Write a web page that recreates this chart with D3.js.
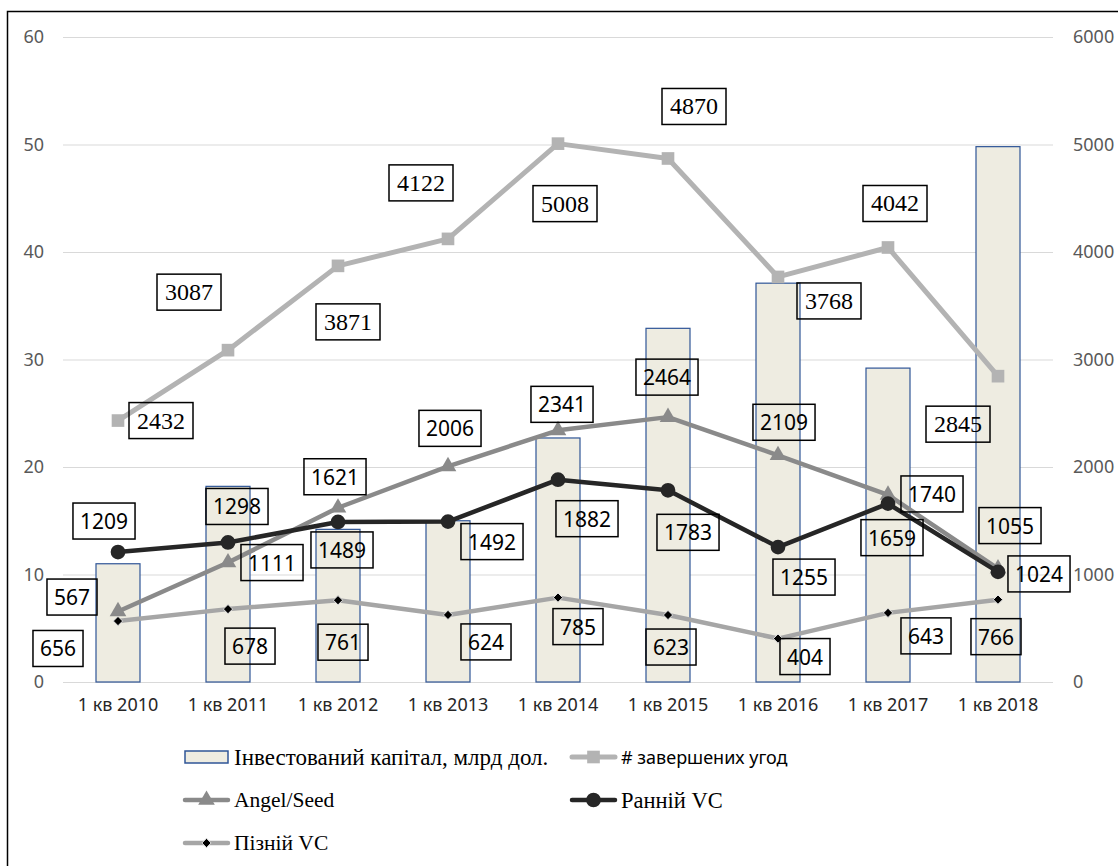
<!DOCTYPE html>
<html>
<head>
<meta charset="utf-8">
<script src="https://cdn.jsdelivr.net/npm/d3@7"></script>
<style>
  body { margin: 0; background: #fff; }
</style>
</head>
<body>
<div id="chart"></div>
<script>
// data
var quarters = ["1 кв 2010", "1 кв 2011", "1 кв 2012", "1 кв 2013", "1 кв 2014", "1 кв 2015", "1 кв 2016", "1 кв 2017", "1 кв 2018"];
var capital = [11, 18.2, 14.2, 15, 22.7, 32.9, 37.1, 29.2, 49.8];   // млрд дол., left axis
var deals = [2432, 3087, 3871, 4122, 5008, 4870, 3768, 4042, 2845]; // right axis
var angelSeed = [656, 1111, 1621, 2006, 2341, 2464, 2109, 1740, 1055];
var earlyVC = [1209, 1298, 1489, 1492, 1882, 1783, 1255, 1659, 1024];
var lateVC = [567, 678, 761, 624, 785, 623, 404, 643, 766];
var leftTicks = [0, 10, 20, 30, 40, 50, 60];
var rightTicks = [0, 1000, 2000, 3000, 4000, 5000, 6000];

// manual label placement (pixels from the point), like the hand-dragged labels in the original
var dealsOff = [[43, 0], [-39, -58], [10, 56], [-27, -56], [7, 60], [26, -52], [51, 24], [7, -44], [-40, 48]];
var angelOff = [[-60, 37], [44, 0], [-3, -31], [2, -38], [4, -26], [-1, -40], [6, -33], [44, -1], [12, -43]];
var earlyOff = [[-14, -31], [9, -36], [4, 28], [44, 20], [29, 39], [20, 42], [26, 30], [4, 34], [41, 2]];
var lateOff = [[-46, -24], [22, 37], [5, 42], [38, 27], [20, 29], [3, 32], [27, 18], [38, 23], [-2, 37]];

var sans = "'Noto Sans', 'Open Sans', sans-serif";
var serif = "'Liberation Serif', 'Times New Roman', serif";

var W = 1118, H = 866;
var plot = {left: 63, right: 1053, top: 37, bottom: 682};

var svg = d3.select("#chart").append("svg")
  .attr("width", W)
  .attr("height", H);

// outer frame (cut by the picture on the right and bottom)
svg.append("rect")
  .attr("x", 7.5).attr("y", 11.5)
  .attr("width", 1300).attr("height", 1000)
  .attr("fill", "none")
  .attr("stroke", "#000")
  .attr("stroke-width", 1.5);

var x = d3.scaleBand()
  .domain(quarters)
  .range([plot.left, plot.right]);
var cx = function(d) { return x(d) + x.bandwidth() / 2; };

var yL = d3.scaleLinear().domain([0, 60]).range([plot.bottom, plot.top]);
var yR = d3.scaleLinear().domain([0, 6000]).range([plot.bottom, plot.top]);

// left axis + grid
var gl = svg.append("g")
  .attr("transform", "translate(" + plot.left + ",0)")
  .call(d3.axisLeft(yL).tickValues(leftTicks).tickSize(-(plot.right - plot.left)).tickPadding(19));
gl.select(".domain").remove();
gl.selectAll(".tick line").attr("stroke", "#d9d9d9").attr("stroke-width", 1.2);
gl.selectAll(".tick text").attr("fill", "#595959").style("font", "18px " + sans);

// right axis
var gr = svg.append("g")
  .attr("transform", "translate(" + plot.right + ",0)")
  .call(d3.axisRight(yR).tickValues(rightTicks).tickFormat(d3.format("d")).tickSize(0).tickPadding(20));
gr.select(".domain").remove();
gr.selectAll(".tick text").attr("fill", "#595959").style("font", "18px " + sans);

// x axis labels
var gx = svg.append("g")
  .attr("transform", "translate(0," + plot.bottom + ")")
  .call(d3.axisBottom(x).tickSize(0).tickPadding(16));
gx.select(".domain").remove();
gx.selectAll(".tick text").attr("fill", "#262626").style("font", "18px " + sans);

// bars
var barW = x.bandwidth() * 0.4;
svg.append("g").selectAll("rect")
  .data(capital)
  .enter().append("rect")
  .attr("x", function(d, i) { return cx(quarters[i]) - barW / 2; })
  .attr("y", function(d) { return yL(d); })
  .attr("width", barW)
  .attr("height", function(d) { return yL(0) - yL(d); })
  .attr("fill", "#eeece1")
  .attr("stroke", "#2f5597")
  .attr("stroke-width", 1.2);

var line = d3.line()
  .x(function(d, i) { return cx(quarters[i]); })
  .y(function(d) { return yR(d); });

function drawSeries(values, color, width, marker) {
  var g = svg.append("g");
  g.append("path")
    .datum(values)
    .attr("d", line)
    .attr("fill", "none")
    .attr("stroke", color)
    .attr("stroke-width", width)
    .attr("stroke-linejoin", "round");
  g.selectAll("path.m")
    .data(values)
    .enter().append("path")
    .attr("class", "m")
    .attr("transform", function(d, i) { return "translate(" + cx(quarters[i]) + "," + yR(d) + ")"; })
    .attr("d", marker.d)
    .attr("fill", marker.fill)
    .attr("stroke", marker.stroke || "none")
    .attr("stroke-width", marker.sw || 0);
}

var mSquare = {d: d3.symbol().type(d3.symbolSquare).size(160)(), fill: "#b3b3b3"};
var mTri = {d: d3.symbol().type(d3.symbolTriangle).size(120)(), fill: "#8a8a8a"};
var mCircle = {d: d3.symbol().type(d3.symbolCircle).size(170)(), fill: "#262626"};
var mDiamond = {d: d3.symbol().type(d3.symbolDiamond2).size(55)(), fill: "#000", stroke: "#e6e6e6", sw: 1};

drawSeries(deals, "#b3b3b3", 5, mSquare);
drawSeries(angelSeed, "#8a8a8a", 4.5, mTri);
drawSeries(lateVC, "#a6a6a6", 4.5, mDiamond);
drawSeries(earlyVC, "#262626", 4.5, mCircle);

// boxed data labels
function drawLabels(values, offs, font, size, pad) {
  var g = svg.append("g");
  values.forEach(function(v, i) {
    var px = cx(quarters[i]) + offs[i][0];
    var py = yR(v) + offs[i][1];
    var t = g.append("text")
      .attr("x", px)
      .attr("y", py)
      .attr("text-anchor", "middle")
      .attr("dominant-baseline", "central")
      .attr("fill", "#000")
      .style("font-family", font)
      .style("font-size", size + "px")
      .text(v);
    var tw = t.node().getComputedTextLength();
    g.insert("rect", "text")
      .attr("x", px - tw / 2 - pad)
      .attr("y", py - 18)
      .attr("width", tw + pad * 2)
      .attr("height", 36)
      .attr("fill", "none")
      .attr("stroke", "#000")
      .attr("stroke-width", 1.5);
  });
}

drawLabels(deals, dealsOff, serif, 24, 8);
drawLabels(angelSeed, angelOff, sans, 21, 7);
drawLabels(earlyVC, earlyOff, sans, 21, 7);
drawLabels(lateVC, lateOff, sans, 21, 7);

// legend
var legend = [
  {name: "Інвестований капітал, млрд дол.", type: "bar", x: 185, y: 757, font: serif, size: 23},
  {name: "# завершених угод", type: "line", color: "#b3b3b3", w: 5, marker: mSquare, x: 572, y: 757, font: sans, size: 18},
  {name: "Angel/Seed", type: "line", color: "#8a8a8a", w: 4.5, marker: mTri, x: 185, y: 800, font: serif, size: 21.5},
  {name: "Ранній VC", type: "line", color: "#262626", w: 4.5, marker: mCircle, x: 572, y: 800, font: serif, size: 22.5},
  {name: "Пізній VC", type: "line", color: "#a6a6a6", w: 4.5, marker: mDiamond, x: 185, y: 843, font: serif, size: 21.5}
];

var lg = svg.append("g");
legend.forEach(function(l) {
  var g = lg.append("g").attr("transform", "translate(" + l.x + "," + l.y + ")");
  if (l.type === "bar") {
    g.append("rect")
      .attr("x", 0).attr("y", -6)
      .attr("width", 43).attr("height", 12)
      .attr("fill", "#eeece1")
      .attr("stroke", "#2f5597")
      .attr("stroke-width", 1.5);
  } else {
    g.append("line")
      .attr("x1", 0).attr("x2", 43)
      .attr("stroke", l.color)
      .attr("stroke-width", l.w)
      .attr("stroke-linecap", "round");
    g.append("path")
      .attr("transform", "translate(21.5,0)")
      .attr("d", l.marker.d)
      .attr("fill", l.marker.fill)
      .attr("stroke", l.marker.stroke || "none")
      .attr("stroke-width", l.marker.sw || 0);
  }
  g.append("text")
    .attr("x", 49)
    .attr("y", 0)
    .attr("dominant-baseline", "central")
    .attr("fill", "#000")
    .style("font-family", l.font)
    .style("font-size", l.size + "px")
    .text(l.name);
});
</script>
</body>
</html>
